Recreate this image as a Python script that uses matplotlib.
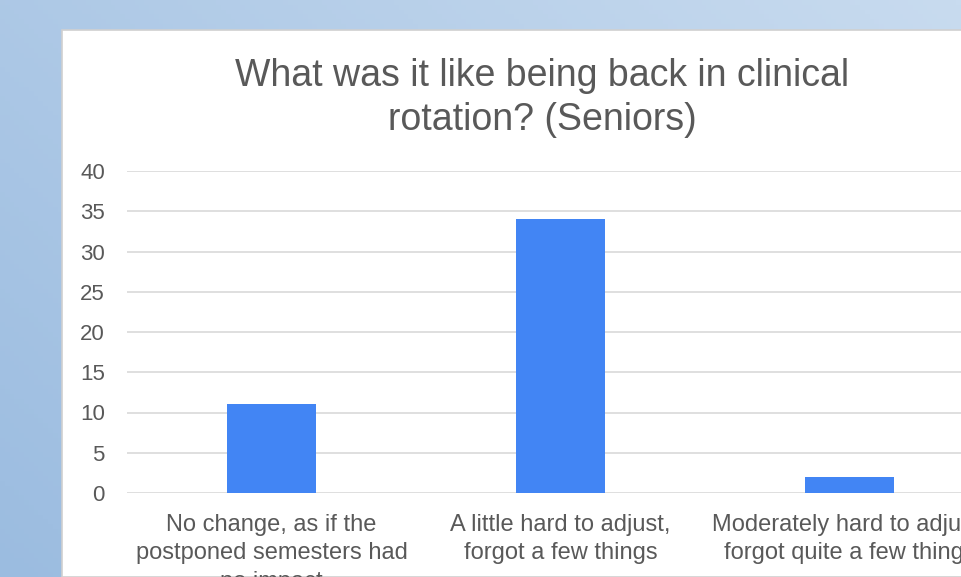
import numpy as np
import matplotlib.pyplot as plt
from matplotlib.patches import Rectangle

# data
categories = ['No change, as if the\npostponed semesters had\nno impact',
              'A little hard to adjust,\nforgot a few things',
              'Moderately hard to adjust,\nforgot quite a few things']
counts = [11, 34, 2]
y_ticks = [0, 5, 10, 15, 20, 25, 30, 35, 40]

plt.rcParams['font.family'] = ['Liberation Sans', 'DejaVu Sans']
text_col = '#595959'

fig = plt.figure(figsize=(9.61, 5.77), dpi=100)

# blue slide background behind the chart
bg = fig.add_axes([0, 0, 1, 1], zorder=-10)
gx, gy = np.meshgrid(np.linspace(0, 1, 200), np.linspace(0, 1, 120))
t = 0.6 * gx + 0.4 * gy
c0 = np.array([155, 188, 224]) / 255
c1 = np.array([200, 219, 239]) / 255
img = c0[None, None, :] * (1 - t[..., None]) + c1[None, None, :] * t[..., None]
bg.imshow(img, origin='lower', extent=[0, 1, 0, 1], aspect='auto')
bg.set_xlim(0, 1)
bg.set_ylim(0, 1)
bg.axis('off')

# white chart panel
panel = Rectangle((62 / 961, 0), 1.0, 1 - 30 / 577, transform=fig.transFigure,
                  facecolor='white', edgecolor='#d0d0d0', linewidth=1.2, zorder=-5)
fig.patches.append(panel)

# plot area
left = 127 / 961
bottom = 1 - 493 / 577
height = (493 - 171) / 577
ax = fig.add_axes([left, bottom, 1 - left, height])
x = np.arange(len(categories))
ax.bar(x, counts, width=0.308, color='#4285f4', zorder=3)
ax.set_xlim(-0.5, -0.5 + (961 - 127) / 289)
ax.set_ylim(0, 40)
ax.set_yticks(y_ticks)
ax.set_xticks(x)
ax.set_xticklabels(categories, linespacing=1.38)
ax.grid(axis='y', color='#d9d9d9', linewidth=1.2, zorder=0)
ax.set_axisbelow(True)
for s in ax.spines.values():
    s.set_visible(False)
ax.tick_params(axis='y', length=0, pad=16, labelsize=16, labelcolor=text_col)
ax.tick_params(axis='x', length=0, pad=15, labelsize=17, labelcolor=text_col)
ax.patch.set_alpha(0)

fig.text(542 / 961, 1 - 98 / 577,
         'What was it like being back in clinical\nrotation? (Seniors)',
         ha='center', va='center', fontsize=27, color=text_col, linespacing=1.3)

fig.savefig('out.png', dpi=100)
